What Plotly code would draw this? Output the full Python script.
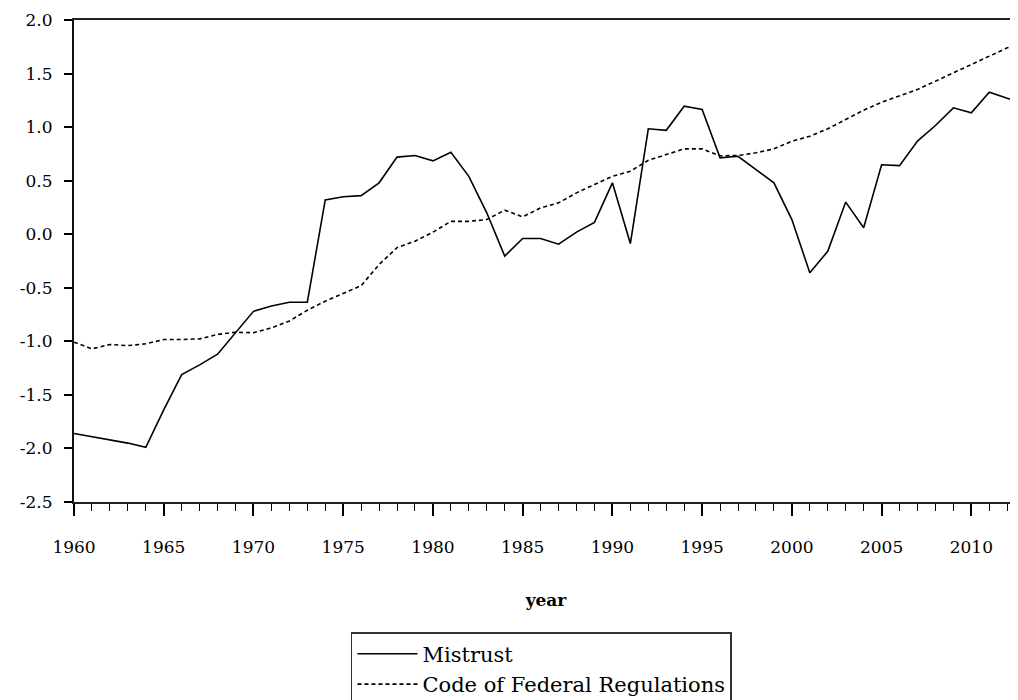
import plotly.graph_objects as go

years = list(range(1960, 2014))

mistrust = [
    -1.86, -1.89, -1.92, -1.95, -1.99, -1.64, -1.31, -1.22, -1.12, -0.92,
    -0.72, -0.67, -0.635, -0.635, 0.32, 0.35, 0.36, 0.48, 0.72, 0.735,
    0.685, 0.766, 0.54, 0.20, -0.205, -0.04, -0.04, -0.093, 0.02, 0.11,
    0.48, -0.087, 0.984, 0.97, 1.195, 1.164, 0.713, 0.728, 0.604, 0.48,
    0.137, -0.36, -0.159, 0.30, 0.06, 0.648, 0.64, 0.87, 1.015, 1.18,
    1.133, 1.326, 1.27, 1.22,
]

cfr = [
    -1.008, -1.07, -1.03, -1.04, -1.023, -0.983, -0.983, -0.977, -0.936, -0.915,
    -0.92, -0.874, -0.81, -0.71, -0.625, -0.554, -0.48, -0.283, -0.125, -0.065,
    0.019, 0.12, 0.12, 0.137, 0.224, 0.162, 0.246, 0.293, 0.386, 0.464,
    0.54, 0.588, 0.69, 0.744, 0.797, 0.797, 0.732, 0.735, 0.76, 0.797,
    0.868, 0.915, 0.984, 1.071, 1.158, 1.232, 1.289, 1.351, 1.429, 1.507,
    1.585, 1.669, 1.74, 1.79,
]

x_ticks = [1960, 1965, 1970, 1975, 1980, 1985, 1990, 1995, 2000, 2005, 2010]
y_ticks = [2.0, 1.5, 1.0, 0.5, 0.0, -0.5, -1.0, -1.5, -2.0, -2.5]
y_tick_labels = ["2.0", "1.5", "1.0", "0.5", "0.0", "-0.5", "-1.0", "-1.5", "-2.0", "-2.5"]

FONT = "DejaVu Serif"

fig = go.Figure()
fig.add_trace(go.Scatter(
    x=years, y=mistrust, mode="lines", name="Mistrust",
    line=dict(color="#000000", width=1.6),
))
fig.add_trace(go.Scatter(
    x=years, y=cfr, mode="lines", name="Code of Federal Regulations",
    line=dict(color="#000000", width=1.6, dash="4px,3px"),
))

# page body has an 8px margin, so the figure is 1010x692 and sits at (8, 8)
fig.update_layout(
    width=1010, height=692,
    margin=dict(l=66, r=0, t=12, b=198, autoexpand=False),
    paper_bgcolor="white", plot_bgcolor="white",
    font=dict(family=FONT, color="#000000", size=17),
    showlegend=True,
    legend=dict(
        x=0.2934, y=-0.27, xanchor="left", yanchor="top",
        bordercolor="#333333", borderwidth=1.5, bgcolor="white",
        font=dict(family=FONT, size=21, color="#000000"),
        tracegroupgap=0, itemwidth=60,
    ),
)

fig.update_xaxes(
    range=[1960, 2012.6], automargin=False,
    tickmode="array", tickvals=x_ticks, ticktext=[str(v) for v in x_ticks],
    ticks="outside", ticklen=12, tickwidth=1.5, tickcolor="#000000",
    minor=dict(dtick=1, tick0=1960, ticks="outside", ticklen=7, tickwidth=1.2, tickcolor="#000000"),
    showline=True, linecolor="#222222", linewidth=2, mirror=True,
    showgrid=False, zeroline=False,
    tickfont=dict(family=FONT, size=17, color="#000000"),
    ticklabelstandoff=17,
    title=dict(text="<b>year</b>", font=dict(family=FONT, size=17, color="#000000"), standoff=38),
)
fig.update_yaxes(
    range=[-2.5, 2.0], automargin=False,
    tickmode="array", tickvals=y_ticks, ticktext=y_tick_labels,
    ticks="outside", ticklen=8, tickwidth=1.5, tickcolor="#000000",
    showline=True, linecolor="#111111", linewidth=2, mirror=False,
    showgrid=False, zeroline=False,
    tickfont=dict(family=FONT, size=17, color="#000000"),
    ticklabelstandoff=8,
)

fig.write_html("out.html")
